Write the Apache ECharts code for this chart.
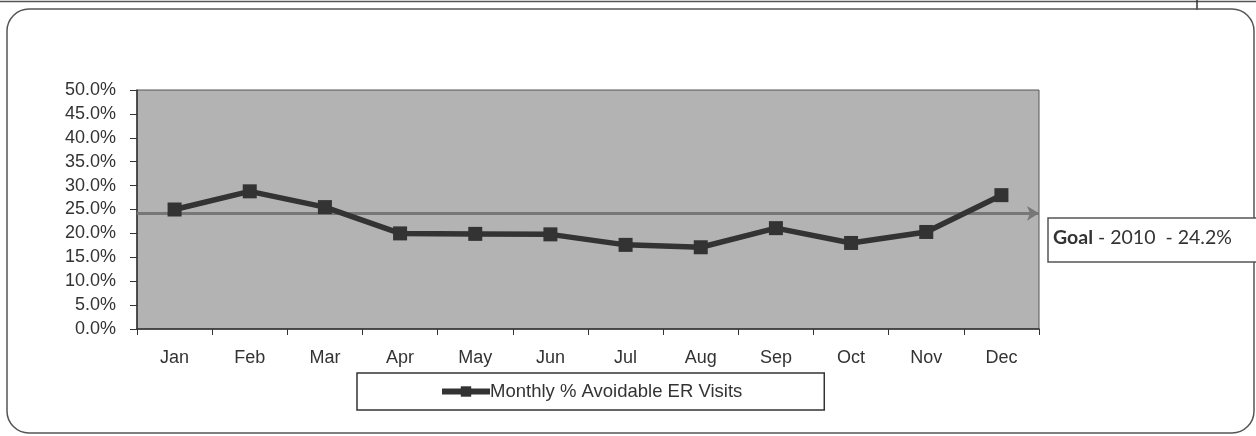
<!DOCTYPE html>
<html>
<head>
<meta charset="utf-8">
<script src="https://cdn.jsdelivr.net/npm/echarts@6/dist/echarts.min.js"></script>
<style>
html,body{margin:0;padding:0;background:#fff;}
#c{width:1256px;height:436px;}
</style>
</head>
<body>
<div id="c"></div>
<script>
const months = ['Jan','Feb','Mar','Apr','May','Jun','Jul','Aug','Sep','Oct','Nov','Dec'];
const avoidableER = [25.0, 28.8, 25.5, 20.0, 19.9, 19.8, 17.6, 17.1, 21.1, 18.0, 20.3, 28.0];
const seriesName = 'Monthly % Avoidable ER Visits';
const goalYear = '2010';
const goalValue = 24.2;
const yMin = 0, yMax = 50, yStep = 5;

const chart = echarts.init(document.getElementById('c'));
const font = '"Liberation Sans", Arial, sans-serif';
chart.setOption({
  animation: false,
  backgroundColor: '#ffffff',
  grid: {
    left: 137, right: 217, top: 90, bottom: 107,
    show: true, backgroundColor: '#b3b3b3', borderColor: '#555', borderWidth: 1
  },
  xAxis: {
    type: 'category',
    data: months,
    boundaryGap: true,
    axisLine: { lineStyle: { color: '#333', width: 1.5 } },
    axisTick: { show: true, length: 6, inside: false, lineStyle: { color: '#333' } },
    axisLabel: { color: '#333', fontFamily: font, fontSize: 18, margin: 20 },
    splitLine: { show: false }
  },
  yAxis: {
    type: 'value',
    min: yMin, max: yMax, interval: yStep,
    axisLine: { show: true, lineStyle: { color: '#333', width: 1.5 } },
    axisTick: { show: true, length: 7, lineStyle: { color: '#333' } },
    axisLabel: { color: '#333', fontFamily: font, fontSize: 18, margin: 21,
      formatter: v => v.toFixed(1) + '%' },
    splitLine: { show: false }
  },
  legend: {
    left: 357, top: 373,
    padding: [9, 82, 9, 82],
    borderColor: '#333', borderWidth: 1.5,
    backgroundColor: '#fff',
    itemWidth: 48, itemHeight: 13, itemGap: 0,
    lineStyle: { width: 6, color: '#333' },
    itemStyle: { color: '#333' },
    textStyle: { color: '#333', fontFamily: font, fontSize: 18.5, padding: [0,0,0,-5] },
    data: [seriesName]
  },
  series: [{
    name: seriesName,
    type: 'line',
    data: avoidableER,
    symbol: 'rect',
    symbolSize: 14,
    lineStyle: { color: '#333', width: 5.5 },
    itemStyle: { color: '#333' },
    z: 3,
    markLine: {
      silent: true,
      symbol: ['none', 'arrow'],
      symbolSize: [11, 12],
      label: { show: false },
      lineStyle: { color: '#777', width: 3, type: 'solid' },
      data: [{ yAxis: goalValue }],
      z: 2
    }
  }],
  graphic: [
    { type: 'line', shape: { x1: 0, y1: 1.5, x2: 1256, y2: 1.5 }, style: { stroke: '#555', lineWidth: 1.5 } },
    { type: 'line', shape: { x1: 1197, y1: 0, x2: 1197, y2: 10 }, style: { stroke: '#333', lineWidth: 1.5 } },
    { type: 'rect', shape: { x: 7, y: 9, width: 1247, height: 424, r: 22 }, style: { fill: 'none', stroke: '#555', lineWidth: 1.5 } },
    { type: 'rect', shape: { x: 1048, y: 218, width: 230, height: 44 }, style: { fill: '#fff', stroke: '#555', lineWidth: 1.5 } },
    { type: 'text', x: 1053, y: 238,
      style: {
        text: '{b|Goal} - ' + goalYear + '  - ' + goalValue.toFixed(1) + '%',
        fill: '#333', fontFamily: 'Lato, "Open Sans", sans-serif', fontSize: 19.5,
        verticalAlign: 'middle',
        rich: { b: { fontWeight: 'bold', fill: '#333', fontFamily: 'Lato, "Open Sans", sans-serif', fontSize: 19.5 } }
      } }
  ]
});
</script>
</body>
</html>
